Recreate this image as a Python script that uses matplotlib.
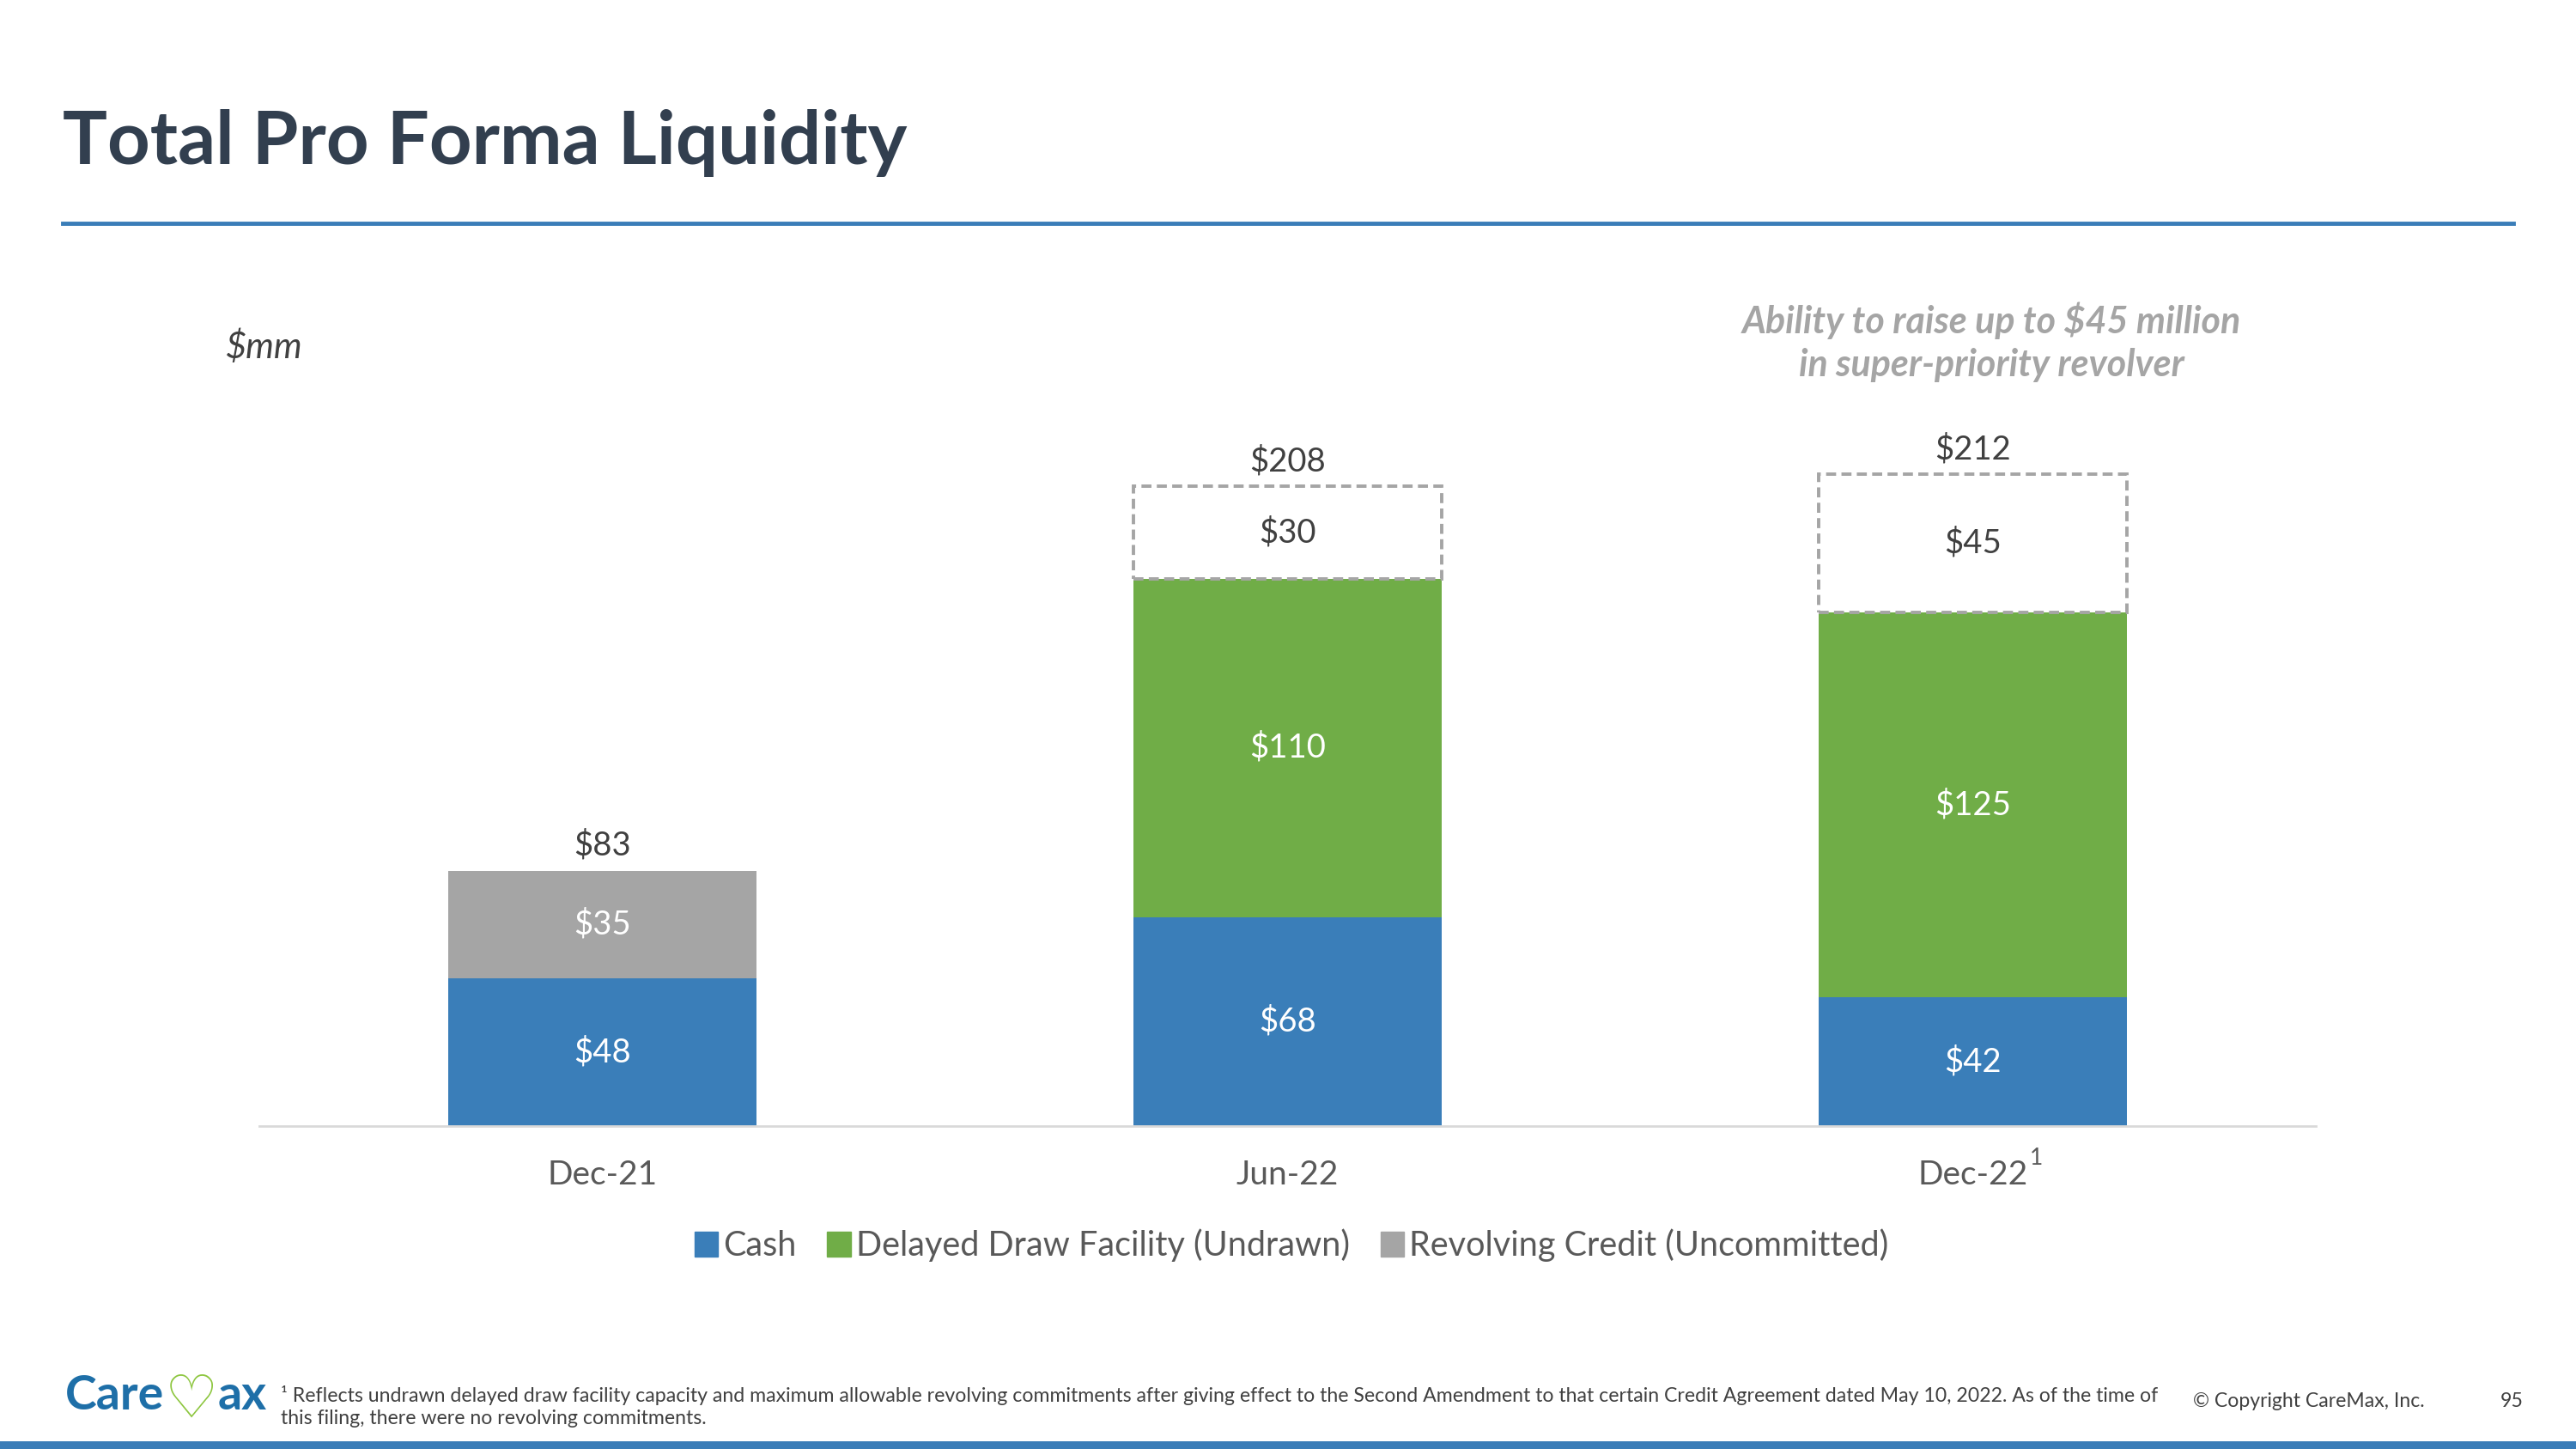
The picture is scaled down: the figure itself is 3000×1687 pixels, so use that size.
import matplotlib
matplotlib.use("Agg")
import matplotlib.pyplot as plt
from matplotlib.patches import Patch

plt.rcParams['font.family'] = ['Lato', 'DejaVu Sans']

# data
categories = ["Dec-21", "Jun-22", "Dec-22"]
cash = [48, 68, 42]
delayed_draw = [0, 110, 125]
revolving = [35, 0, 0]
super_priority = [0, 30, 45]   # dashed, not yet committed
totals = [83, 208, 212]

series_names = ["Cash", "Delayed Draw Facility (Undrawn)", "Revolving Credit (Uncommitted)"]

BLUE = "#3A7EB9"
GREEN = "#70AD47"
GRAY = "#A5A5A5"
DARK = "#404040"
MID = "#595959"

W, H = 3000, 1687


def fx(px):
    return px / W


def fy(py):
    return 1 - py / H


fig = plt.figure(figsize=(30, 16.87), dpi=100)
fig.patch.set_facecolor("white")

# chart area: baseline at y=1311 px, 3.58 px per $mm
ymax = 250
ax = fig.add_axes([fx(302), fy(1311), fx(2697) - fx(302), (ymax * 3.58) / H])
ax.set_xlim(-0.5, 2.5)
ax.set_ylim(0, ymax)

x = list(range(len(categories)))
bw = 0.45
b1 = [c for c in cash]
b2 = [c + d for c, d in zip(cash, delayed_draw)]
b3 = [a + r for a, r in zip(b2, revolving)]

ax.bar(x, cash, bw, color=BLUE, zorder=2)
ax.bar(x, delayed_draw, bw, bottom=b1, color=GREEN, zorder=2)
ax.bar(x, revolving, bw, bottom=b2, color=GRAY, zorder=2)
for i, v in enumerate(super_priority):
    if v:
        ax.bar(x[i], v, bw, bottom=b3[i], facecolor="white", edgecolor=GRAY,
               linestyle=(0, (3, 1.6)), linewidth=2.8, zorder=3)

# segment labels
def seg_labels(vals, bottoms, color):
    for i, v in enumerate(vals):
        if v:
            ax.text(x[i], bottoms[i] + v / 2, f"${v}", ha="center", va="center",
                    fontsize=27.5, color=color, zorder=4)

seg_labels(cash, [0, 0, 0], "white")
seg_labels(delayed_draw, b1, "white")
seg_labels(revolving, b2, "white")
seg_labels(super_priority, b3, DARK)

for i, t in enumerate(totals):
    ax.annotate(f"${t}", (x[i], t), xytext=(0, 21), textcoords="offset points",
                ha="center", va="center", fontsize=27.5, color=DARK)

for s in ["top", "right", "left"]:
    ax.spines[s].set_visible(False)
ax.spines["bottom"].set_color("#D9D9D9")
ax.spines["bottom"].set_linewidth(2)
ax.set_yticks([])
ax.set_xticks(x)
ax.set_xticklabels(categories, fontsize=28, color=MID)
ax.tick_params(axis="x", length=0, pad=28)

# footnote marker on Dec-22
ax.annotate("1", (2, 0), xytext=(53, -27), textcoords="offset points",
            ha="center", va="center", fontsize=19, color=MID)

handles = [Patch(color=BLUE), Patch(color=GREEN), Patch(color=GRAY)]
ax.legend(handles, series_names, loc="center", bbox_to_anchor=(fx(1504), fy(1450)),
          bbox_transform=fig.transFigure, ncol=3, frameon=False, fontsize=28.5,
          labelcolor=MID, handlelength=0.7, handleheight=0.75, handletextpad=0.15,
          columnspacing=0.9)

# title and rule
fig.text(fx(73), fy(191), "Total Pro Forma Liquidity", fontsize=62.5, fontweight="bold",
         color="#323F4F", ha="left", va="baseline")
fig.add_artist(plt.Line2D([fx(73), fx(2927)], [fy(260), fy(260)], color="#3A7DB8", lw=3.5))

fig.text(fx(262), fy(404), "$mm", fontsize=30, style="italic", color=DARK, ha="left", va="center")
fig.text(fx(2319), fy(373), "Ability to raise up to $45 million", fontsize=31, style="italic",
         fontweight="bold", color=GRAY, ha="center", va="center")
fig.text(fx(2319), fy(425), "in super-priority revolver", fontsize=31, style="italic",
         fontweight="bold", color=GRAY, ha="center", va="center")

# footer logo
fig.text(fx(76), fy(1625), "Care", fontsize=40, fontweight="bold", color="#1E6FA8",
         ha="left", va="center")
fig.text(fx(223), fy(1630), "\u2661", fontsize=50, color="#8DC63F", family="DejaVu Sans",
         ha="center", va="center")
fig.text(fx(254), fy(1625), "ax", fontsize=40, fontweight="bold", color="#1E6FA8",
         ha="left", va="center")

fig.text(fx(327), fy(1624), "\u00b9 Reflects undrawn delayed draw facility capacity and maximum allowable "
         "revolving commitments after giving effect to the Second Amendment to that certain Credit "
         "Agreement dated May 10, 2022. As of the time of", fontsize=16.7, color=DARK,
         ha="left", va="center")
fig.text(fx(327), fy(1652), "this filing, there were no revolving commitments.", fontsize=16.7,
         color=DARK, ha="left", va="center")
fig.text(fx(2554), fy(1632), "\u00a9 Copyright CareMax, Inc.", fontsize=16.6, color=DARK,
         ha="left", va="center")
fig.text(fx(2912), fy(1632), "95", fontsize=16.6, color=DARK, ha="left", va="center")

fig.add_artist(plt.Rectangle((0, 0), 1, 9 / H, transform=fig.transFigure,
                             color="#3A7DB8", lw=0))

fig.savefig("out.png", dpi=100)
